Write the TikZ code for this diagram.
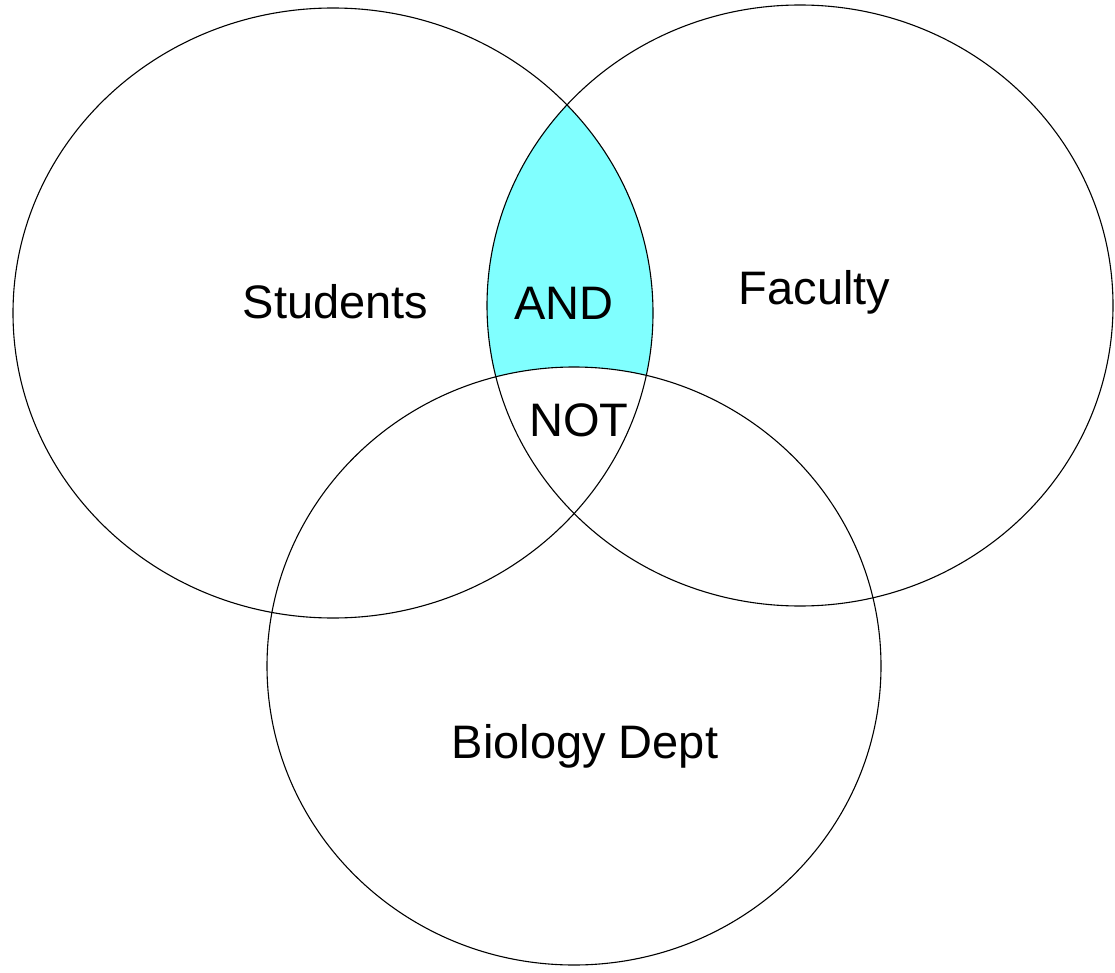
\documentclass[tikz,border=0pt]{standalone}
\usepackage{fontspec}
\setmainfont{Liberation Sans}
\usepackage{xcolor}
\usepackage{tikz}
\definecolor{andcyan}{RGB}{128, 255, 255}
\usetikzlibrary{positioning}

\begin{document}
\begin{tikzpicture}[x=1pt, y=1pt,
    setline/.style={draw=black, line width=1.1pt},
    setlabel/.style={font=\fontsize{47}{56}\selectfont, inner sep=0pt, anchor=base}]
    \useasboundingbox (0,0) rectangle (1115,-973);
    \coordinate (stucenter) at (333,-313);
    \coordinate (faccenter) at (800,-305.5);
    \coordinate (biocenter) at (574,-666);
    % AND region: students and faculty, without biology
    \begin{scope}
        \clip (stucenter) ellipse [x radius=320, y radius=305];
        \fill[andcyan] (faccenter) ellipse [x radius=313, y radius=300.5];
        \fill[white] (biocenter) ellipse [x radius=307, y radius=299];
    \end{scope}
    \draw[setline] (stucenter) ellipse [x radius=320, y radius=305];
    \draw[setline] (faccenter) ellipse [x radius=313, y radius=300.5];
    \draw[setline] (biocenter) ellipse [x radius=307, y radius=299];
    \node[setlabel] (students) at (335.5,-318) {Students};
    \node[setlabel] (and) at (564,-319) {AND};
    \node[setlabel] (faculty) at (814.5,-305) {Faculty};
    \node[setlabel] (not) at (579,-436) {NOT};
    \node[setlabel] (biology) at (585,-758) {Biology Dept};
\end{tikzpicture}
\end{document}
